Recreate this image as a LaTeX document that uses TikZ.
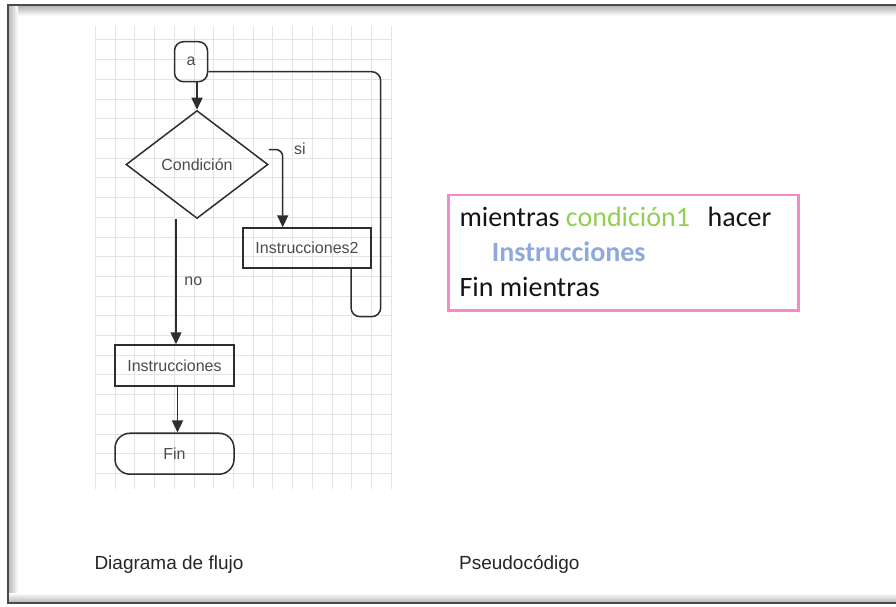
\documentclass[tikz,border=0pt]{standalone}
\usepackage{fontspec}
\setmainfont{Liberation Sans}
\newfontfamily\calib{Carlito}
\usetikzlibrary{shapes.geometric,arrows.meta}
\definecolor{lineC}{HTML}{2E2E2E}
\definecolor{txtC}{HTML}{4C4C4C}
\definecolor{gridC}{HTML}{E4E4E4}
\definecolor{pinkC}{HTML}{F28CC6}
\definecolor{greenC}{HTML}{92D050}
\definecolor{blueC}{HTML}{8EAADB}
\definecolor{frameC}{HTML}{4A4A4A}
\begin{document}
\begin{tikzpicture}[x=1pt,y=-1pt,
  fc/.style={font=\fontsize{16}{19}\selectfont, text=txtC},
  flowbox/.style={draw=lineC, line width=1.5pt, rectangle, fc, inner sep=0pt},
  conn/.style={draw=lineC, line width=1.5pt},
  arr/.style={conn, -{Triangle[width=11pt,length=12pt]}},
  gridl/.style={draw=gridC, line width=1pt},
  pseudo/.style={anchor=base west, inner sep=0pt, font=\calib\fontsize{28}{34}\selectfont},
  caption/.style={anchor=base west, inner sep=0pt, font=\fontsize{19}{22}\selectfont, text=black!85}]
\useasboundingbox (0,0) rectangle (896,607);
\fill[white] (0,0) rectangle (896,607);
% frame with inner shadow
\shade[top color=gray!55, bottom color=white] (8,6.5) rectangle (896,16);
\shade[left color=gray!55, right color=white] (8.5,6.5) rectangle (18,602);
\shade[top color=white, bottom color=gray!55] (8.5,593) rectangle (896,602);
\draw[frameC, line width=2pt] (896,5.5) -- (7.5,5.5) -- (7.5,603) -- (896,603);
% grid
\foreach \k in {0,...,15} \draw[gridl] ({95.4+19.73*\k},26) -- ({95.4+19.73*\k},489);
\foreach \k in {0,...,22} \draw[gridl] (95,{40+19.7*\k}) -- (391,{40+19.7*\k});
% flowchart nodes
\node[flowbox, rounded corners=9pt, minimum width=33pt, minimum height=40pt] (a) at (191,61.7) {a};
\node[flowbox, shape=diamond, minimum width=142pt, minimum height=108pt] (cond) at (197,164.5) {Condición};
\node[flowbox, minimum width=128pt, minimum height=40pt] (ins2) at (307,248) {Instrucciones2};
\node[flowbox, minimum width=119pt, minimum height=41pt] (ins) at (174.5,365.5) {Instrucciones};
\node[flowbox, rounded corners=15pt, minimum width=119pt, minimum height=41pt] (fin) at (174.5,453.7) {Fin};
% connectors
\draw[arr] (a.south -| cond.north) -- (cond.north);
\coordinate (siS) at ([yshift=15pt]cond.east);
\draw[arr, rounded corners=7pt] (siS) -| ([xshift=-24.3pt]ins2.north);
\node[fc] (silbl) at (300,149) {si};
\coordinate (noS) at ([xshift=-21pt]cond.south);
\draw[arr] (noS) -- (noS |- ins.north);
\node[fc] (nolbl) at (193.3,281) {no};
\draw[arr] ([xshift=3pt]ins.south) -- ([xshift=3pt]fin.north);
\coordinate (loopBR) at (380.7,316.7);
\draw[conn, rounded corners=9pt] ([xshift=44pt]ins2.south) |- (loopBR) |- ([yshift=-10pt]a.east);
% pseudocode
\node[draw=pinkC, line width=2.6pt, minimum width=350pt, minimum height=115.7pt, inner sep=0pt] (pbox) at (623.3,252.85) {};
\node[pseudo, text=black!92] (l1) at (459.3,226.7) {mientras \textcolor{greenC}{condición1}\hspace{17.6pt}hacer};
\node[pseudo, text=blueC, font=\calib\bfseries\fontsize{28}{34}\selectfont] (l2) at (491.7,261.7) {Instrucciones};
\node[pseudo, text=black!92] (l3) at (459.3,296.7) {Fin mientras};
% captions
\node[caption] (cap1) at (94.3,569.3) {Diagrama de flujo};
\node[caption] (cap2) at (458.9,569.3) {Pseudocódigo};
\end{tikzpicture}
\end{document}
